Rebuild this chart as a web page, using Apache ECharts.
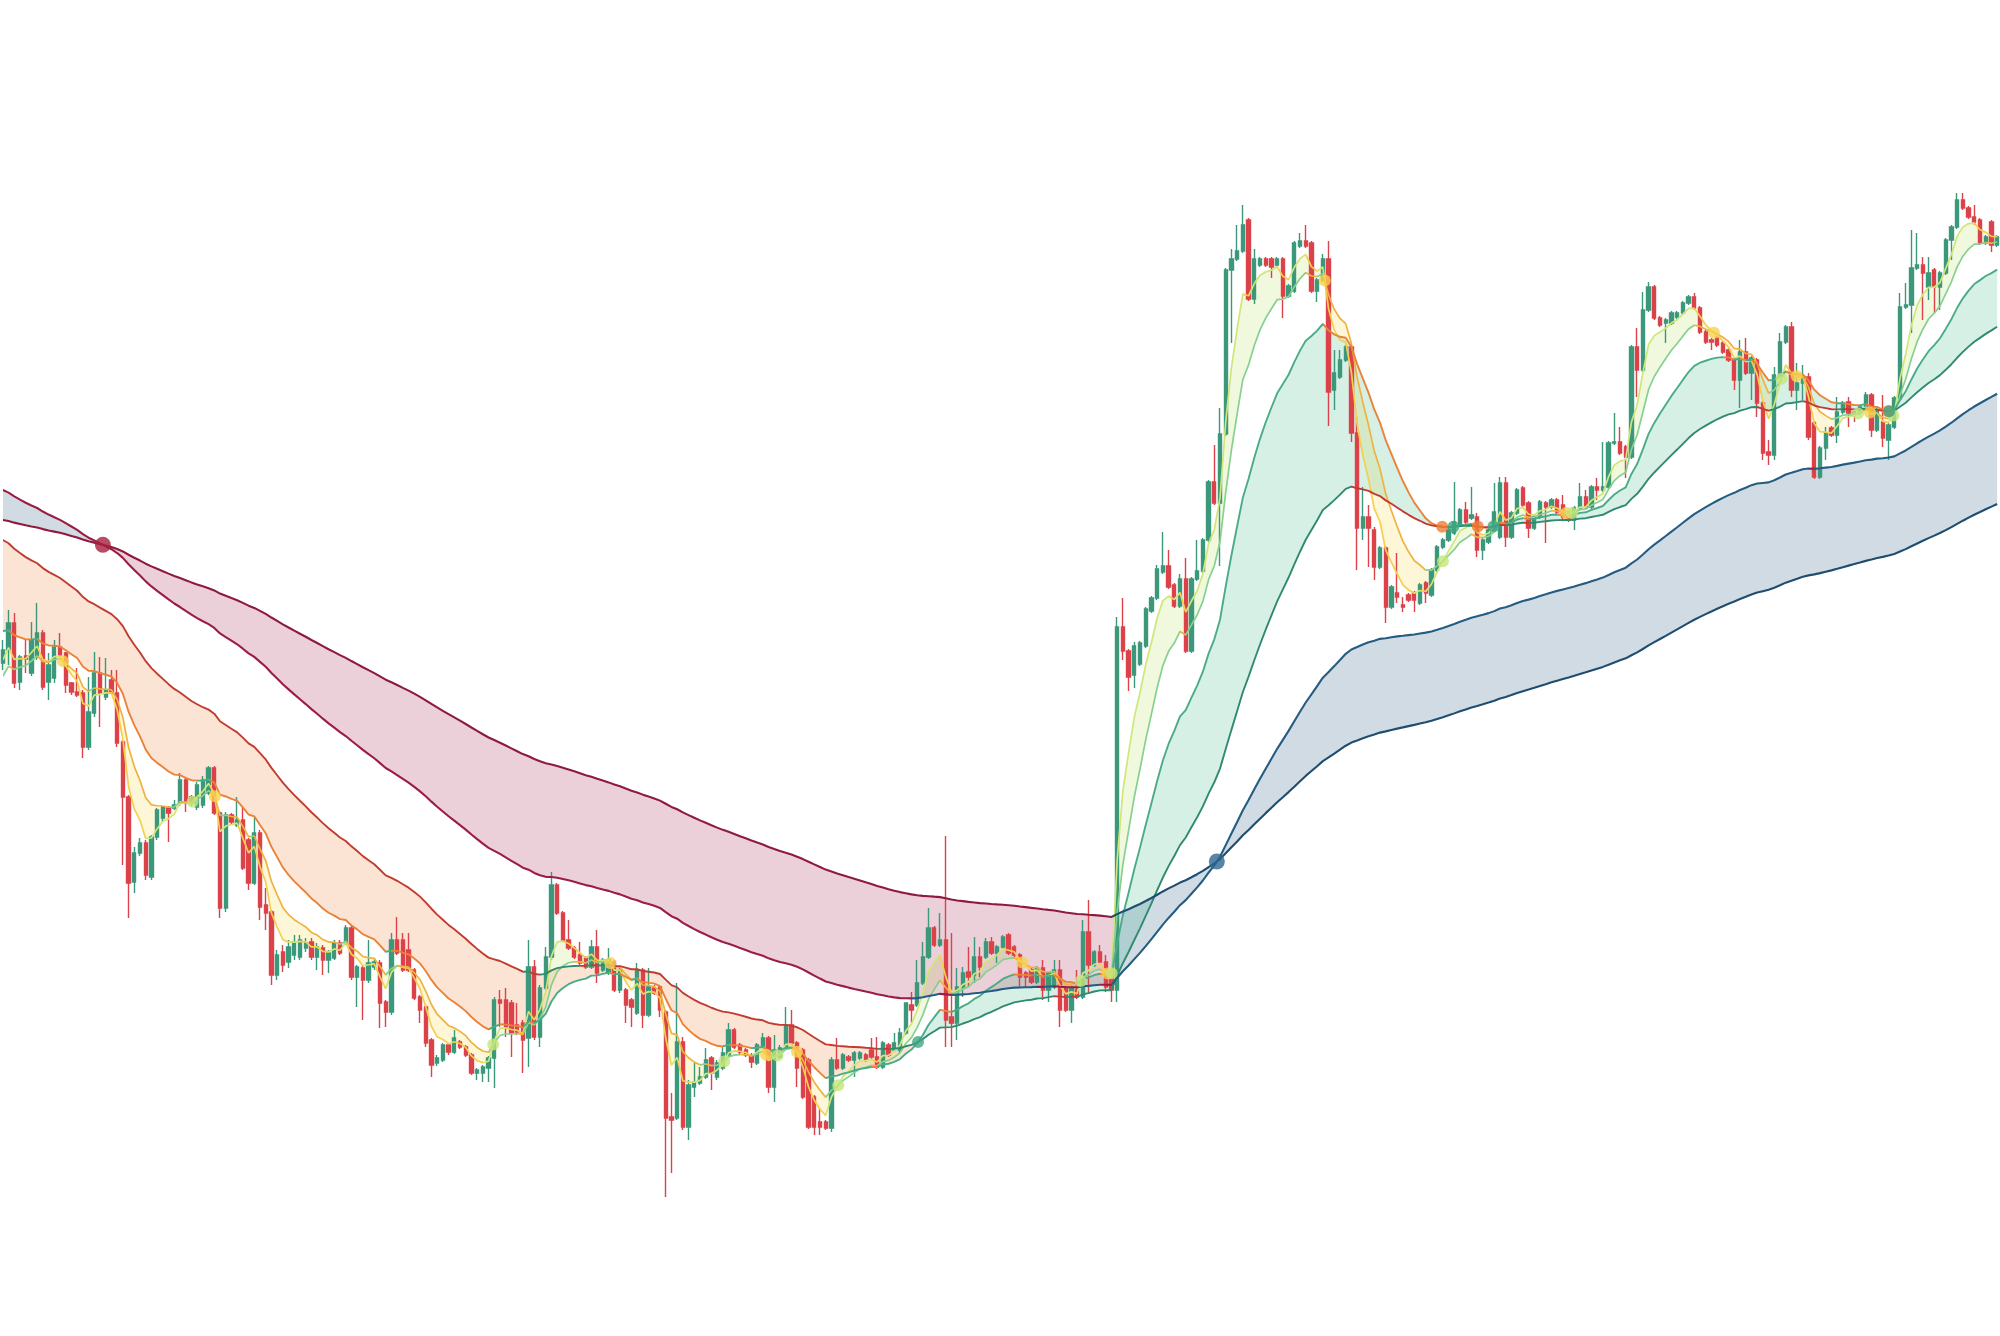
<!DOCTYPE html>
<html>
<head>
<meta charset="utf-8">
<script src="https://cdn.jsdelivr.net/npm/echarts@6.0.0/dist/echarts.min.js"></script>
<style>html,body{margin:0;padding:0;background:#ffffff}#chart{width:2000px;height:1336px}</style>
</head>
<body>
<div id="chart"></div>
<script>
// ---- data (prices) ----
const openP = [
673,686,713,654,680,663,679,703,654,658,
689,683,653,644,643,589,623,663,639,656,
643,594,539,454,483,493,459,499,518,528,
528,533,556,539,529,531,543,568,523,428,
521,511,516,496,453,503,431,424,361,384,
374,381,379,388,394,379,388,376,378,393,
393,408,359,368,356,369,373,334,324,396,
396,386,366,339,329,296,273,276,291,284,
294,289,281,263,263,268,278,336,336,333,
311,313,298,369,299,348,379,451,423,396,
388,381,378,369,389,366,363,374,346,346,
336,323,366,321,348,349,324,219,218,294,
209,249,253,259,278,259,268,281,306,291,
286,281,273,289,298,249,279,288,311,293,
286,276,239,214,214,208,276,268,279,276,
278,281,286,279,269,291,286,286,303,331,
331,353,379,408,391,396,319,313,349,364,
361,379,379,394,383,389,401,389,381,363,
366,354,368,346,349,366,348,326,346,339,
404,371,384,374,364,346,709,685,661,672,
690,725,738,764,770,751,730,757,685,757,
765,796,854,833,902,1066,1077,1085,1116,1037,
1071,1077,1077,1071,1077,1040,1045,1090,1095,1093,
1045,1056,1077,946,959,976,989,903,808,819,
806,769,788,729,743,731,741,743,733,753,
741,766,789,796,803,811,826,818,819,786,
794,806,799,853,799,823,848,833,808,819,
833,829,836,831,824,816,828,839,829,849,
846,849,893,894,889,879,989,966,1026,1049,
1018,1013,1013,1019,1023,1033,1039,1028,1004,996,
998,993,986,976,956,984,963,976,933,884,
881,961,994,1009,946,953,959,913,859,888,
908,901,924,934,924,923,929,941,906,914,
896,909,938,1029,1031,1068,1071,1049,1066,1049,
1063,1096,1109,1136,1128,1119,1116,1093,1114,1091
];
const closeP = [
686,713,653,679,677,696,703,649,671,689,
681,651,644,641,589,624,663,643,646,643,
593,539,453,483,493,461,499,526,529,523,
531,556,533,533,551,556,568,523,428,521,
514,516,468,453,503,429,423,361,381,371,
389,394,396,393,379,389,376,383,393,383,
408,359,369,356,373,374,333,324,396,383,
366,366,338,326,293,271,278,291,284,298,
289,281,263,266,269,278,336,333,309,303,
304,296,369,299,348,379,451,423,396,388,
379,373,369,389,363,376,376,346,366,331,
329,366,321,349,343,326,218,216,294,209,
251,254,259,276,263,273,283,306,289,284,
281,274,291,298,249,286,288,311,293,268,
239,209,209,209,208,276,268,281,276,283,
283,276,279,269,293,281,293,303,333,326,
353,379,408,391,396,316,313,349,363,359,
379,369,394,383,389,399,383,381,359,359,
354,368,346,363,366,326,326,348,339,404,
371,384,374,349,346,709,685,659,690,693,
727,738,767,770,749,730,757,685,757,765,
796,854,833,902,1066,1077,1085,1111,1037,1077,
1077,1071,1069,1077,1040,1050,1093,1095,1090,1045,
1056,1077,944,963,976,989,903,808,819,808,
769,788,729,749,739,729,736,736,751,743,
766,789,796,806,814,826,814,821,786,796,
806,824,853,799,823,846,831,808,819,834,
829,836,824,819,816,828,839,829,849,846,
849,893,894,883,879,989,966,1026,1049,1018,
1011,1016,1023,1023,1033,1039,1028,1004,994,994,
991,984,976,956,984,963,978,933,883,881,
961,994,1009,946,953,959,899,859,888,903,
901,924,933,923,923,929,941,906,926,898,
911,938,1029,1031,1068,1071,1063,1063,1049,1063,
1096,1109,1136,1128,1119,1114,1093,1099,1091,1099
];
const lowP = [
666,671,648,646,663,660,676,646,636,653,
679,643,641,639,578,586,619,609,636,641,
589,471,418,443,480,456,456,496,514,494,
526,530,524,530,526,528,541,521,418,424,
511,509,466,446,451,416,406,351,356,364,
368,376,376,384,376,366,361,363,376,381,
391,356,329,316,353,366,308,309,321,381,
364,364,336,313,289,259,270,274,281,282,
287,279,261,256,254,254,248,309,299,279,
301,263,269,296,289,346,376,421,394,386,
377,371,367,367,353,364,361,344,343,313,
309,321,308,319,341,319,139,163,216,206,
196,239,251,257,246,256,266,279,287,282,
279,268,271,287,243,234,277,286,291,249,
237,207,201,201,206,204,266,266,274,259,
276,274,277,267,267,279,284,283,301,313,
329,351,377,389,389,289,289,296,339,349,
353,359,377,381,373,387,381,379,349,349,
352,352,336,334,347,309,324,313,337,337,
343,369,372,344,334,334,676,645,648,670,
688,723,736,762,747,728,728,683,683,755,
763,794,831,770,900,993,1075,1083,1035,1032,
1069,1069,1058,1069,1018,1038,1043,1088,1088,1043,
1034,1054,910,926,957,974,894,766,796,769,
756,767,713,727,733,724,734,724,731,733,
739,764,787,794,801,809,812,816,779,776,
792,804,797,789,797,821,829,798,806,817,
793,827,822,817,814,806,826,827,827,836,
844,847,891,881,858,877,939,964,1024,1016,
1009,993,1011,1017,1021,1031,1026,1002,992,986,
989,982,974,946,928,961,936,919,876,871,
876,959,992,939,926,936,896,857,857,876,
899,893,922,909,914,921,927,899,904,889,
876,907,936,1027,1003,1066,1016,1036,1023,1026,
1061,1076,1107,1126,1117,1111,1091,1091,1084,1089
];
const highP = [
696,726,723,681,696,714,733,706,683,696,
703,684,654,668,646,659,684,679,678,666,
666,596,541,489,498,496,501,528,530,530,
536,563,558,541,554,560,570,570,525,524,
523,539,529,498,519,506,448,426,386,391,
396,401,401,398,398,393,391,386,396,396,
411,411,371,371,396,378,376,336,403,419,
403,403,368,341,331,298,281,293,293,306,
296,291,283,268,271,280,339,346,348,336,
333,316,396,376,351,389,464,453,425,416,
390,394,380,396,406,378,388,376,368,348,
338,373,368,368,351,351,326,243,353,299,
256,273,269,288,280,276,289,313,308,293,
288,283,293,303,300,301,291,329,326,295,
288,278,241,228,216,279,298,283,281,285,
285,283,298,299,295,293,303,308,333,344,
376,394,428,410,423,500,403,368,369,389,
399,389,398,399,391,401,403,391,383,365,
368,370,376,365,376,376,350,350,366,416,
436,386,391,381,366,719,738,687,694,695,
729,740,771,804,786,753,762,778,759,796,
798,856,891,928,1068,1087,1111,1131,1118,1087,
1079,1079,1079,1079,1079,1052,1095,1103,1111,1095,
1058,1082,1095,986,986,991,991,919,849,831,
809,790,790,751,783,739,743,745,753,755,
768,791,798,808,854,828,834,849,823,798,
808,853,859,859,825,848,850,835,821,836,
835,838,838,841,826,830,853,846,851,858,
894,895,923,909,891,991,1008,1044,1054,1051,
1020,1018,1025,1025,1035,1041,1043,1030,1006,998,
1003,995,988,978,996,998,980,978,935,896,
969,1003,1011,1014,973,971,963,915,890,909,
910,939,935,939,926,931,944,943,928,941,
913,940,1043,1053,1106,1103,1079,1079,1068,1065,
1098,1111,1143,1143,1130,1131,1118,1101,1116,1101
];
// moving-average ribbons: [fast, slow] periods per band and their values at the first bar
const shortPeriods = [5, 10];
const midPeriods = [20, 50];
const longPeriods = [100, 200];
const shortSeeds = [676, 660];
const midSeeds = [705, 796];
const longSeeds = [846, 816];

// ---- build ----
const N = closeP.length;
const categories = closeP.map((_, i) => String(i + 1));

function ema(seed, period) {
  const a = 2 / (period + 1);
  const out = new Array(N);
  let v = seed;
  for (let i = 0; i < N; i++) {
    if (i > 0) v += a * (closeP[i] - v);
    out[i] = +v.toFixed(3);
  }
  return out;
}
function slopePieces(arr, upC, downC) {
  const pieces = [];
  let start = 0, cur = arr[1] >= arr[0];
  for (let i = 1; i < N - 1; i++) {
    const r = arr[i + 1] >= arr[i];
    if (r !== cur) { pieces.push({ gte: start, lt: i, color: cur ? upC : downC }); start = i; cur = r; }
  }
  pieces.push({ gte: start, lte: N, color: cur ? upC : downC });
  return pieces;
}
// fill state: bullish when fast is above slow (long ribbon: also when both are rising)
function fillPieces(fast, slow, upC, downC, trendRule) {
  const state = fast.map((v, i) => {
    if (v >= slow[i]) return true;
    if (trendRule && i > 0 && v > fast[i - 1] && slow[i] > slow[i - 1]) return true;
    return false;
  });
  const pieces = [];
  let start = 0, cur = state[0];
  for (let i = 1; i < N; i++) {
    if (state[i] !== cur) {
      let b = i;
      if ((fast[i] >= slow[i]) !== (fast[i - 1] >= slow[i - 1])) {
        const d0 = fast[i - 1] - slow[i - 1], d1 = fast[i] - slow[i];
        b = Math.round((i - 1) + d0 / (d0 - d1));
      }
      if (b < start) b = start;
      pieces.push({ gte: start, lt: b, color: cur ? upC : downC });
      start = b; cur = state[i];
    }
  }
  pieces.push({ gte: start, lte: N, color: cur ? upC : downC });
  return pieces;
}
function crossDots(fast, slow, upC, downC, size) {
  const out = [];
  for (let i = 0; i < N - 1; i++) {
    const d0 = fast[i] - slow[i], d1 = fast[i + 1] - slow[i + 1];
    if ((d0 < 0 && d1 >= 0) || (d0 > 0 && d1 <= 0)) {
      const t = d0 / (d0 - d1);
      out.push({ value: [i + t, fast[i] + t * (fast[i + 1] - fast[i])], symbolSize: size, itemStyle: { color: d1 >= 0 ? upC : downC } });
    }
  }
  return out;
}

const bands = [
  { periods: shortPeriods, seeds: shortSeeds, w: 1.7, dot: 12, op: 0.2, trend: false,
    fastUp: '#cfe678', fastDown: '#f5cf4e', slowUp: '#86d090', slowDown: '#f0b23e',
    fillUp: '#b4dc5a', fillDown: '#f5d237', dotUp: '#c6e67a', dotDown: '#f7d24f' },
  { periods: midPeriods, seeds: midSeeds, w: 1.9, dot: 12, op: 0.2, trend: false,
    fastUp: '#4aab87', fastDown: '#ea8238', slowUp: '#2f8a6f', slowDown: '#c23b30',
    fillUp: '#32b482', fillDown: '#eb7828', dotUp: '#3ea683', dotDown: '#ee7f34' },
  { periods: longPeriods, seeds: longSeeds, w: 2.1, dot: 16, op: 0.2, trend: true,
    fastUp: '#245c82', fastDown: '#9c1d44', slowUp: '#1f4d70', slowDown: '#8e1a3e',
    fillUp: '#194b78', fillDown: '#9b1441', dotUp: '#2e6690', dotDown: '#a81f3e' }
];

const series = [];
const visualMap = [];
const dots = [];

bands.forEach((b, k) => {
  const fast = ema(b.seeds[0], b.periods[0]);
  const slow = ema(b.seeds[1], b.periods[1]);
  const lo = fast.map((v, i) => Math.min(v, slow[i]));
  const diff = fast.map((v, i) => Math.abs(v - slow[i]));
  series.push({ type: 'line', data: lo, stack: 'band' + k, symbol: 'none', silent: true, z: 1,
    lineStyle: { width: 0, opacity: 0 } });
  series.push({ type: 'line', data: diff, stack: 'band' + k, symbol: 'none', silent: true, z: 1,
    lineStyle: { width: 0, opacity: 0 }, areaStyle: { opacity: b.op } });
  visualMap.push({ type: 'piecewise', show: false, dimension: 0, seriesIndex: series.length - 1,
    pieces: fillPieces(fast, slow, b.fillUp, b.fillDown, b.trend) });
  b.fast = fast; b.slow = slow;
});

series.push({
  type: 'candlestick', z: 2,
  data: closeP.map((c, i) => [openP[i], c, lowP[i], highP[i]]),
  barWidth: '66%',
  itemStyle: { color: '#3b987a', color0: '#dc4249', borderColor: '#3b987a', borderColor0: '#dc4249', borderWidth: 1.4 }
});

bands.forEach((b) => {
  [[b.fast, b.fastUp, b.fastDown], [b.slow, b.slowUp, b.slowDown]].forEach(([arr, up, down]) => {
    series.push({ type: 'line', data: arr, symbol: 'none', silent: true, z: 3, lineStyle: { width: b.w } });
    visualMap.push({ type: 'piecewise', show: false, dimension: 0, seriesIndex: series.length - 1,
      pieces: slopePieces(arr, up, down) });
  });
  crossDots(b.fast, b.slow, b.dotUp, b.dotDown, b.dot).forEach(d => dots.push(d));
});

series.push({ type: 'scatter', xAxisIndex: 1, z: 4, data: dots, silent: true });

const chart = echarts.init(document.getElementById('chart'), null, { renderer: 'canvas' });
chart.setOption({
  animation: false,
  backgroundColor: '#ffffff',
  grid: { left: 0, right: 0, top: 0, bottom: 0 },
  xAxis: [
    { type: 'category', data: categories, boundaryGap: true, show: false },
    { type: 'value', min: -0.5, max: N - 0.5, show: false }
  ],
  yAxis: { type: 'value', min: 0, max: 1336, show: false, splitLine: { show: false } },
  visualMap: visualMap,
  series: series
});
</script>
</body>
</html>
